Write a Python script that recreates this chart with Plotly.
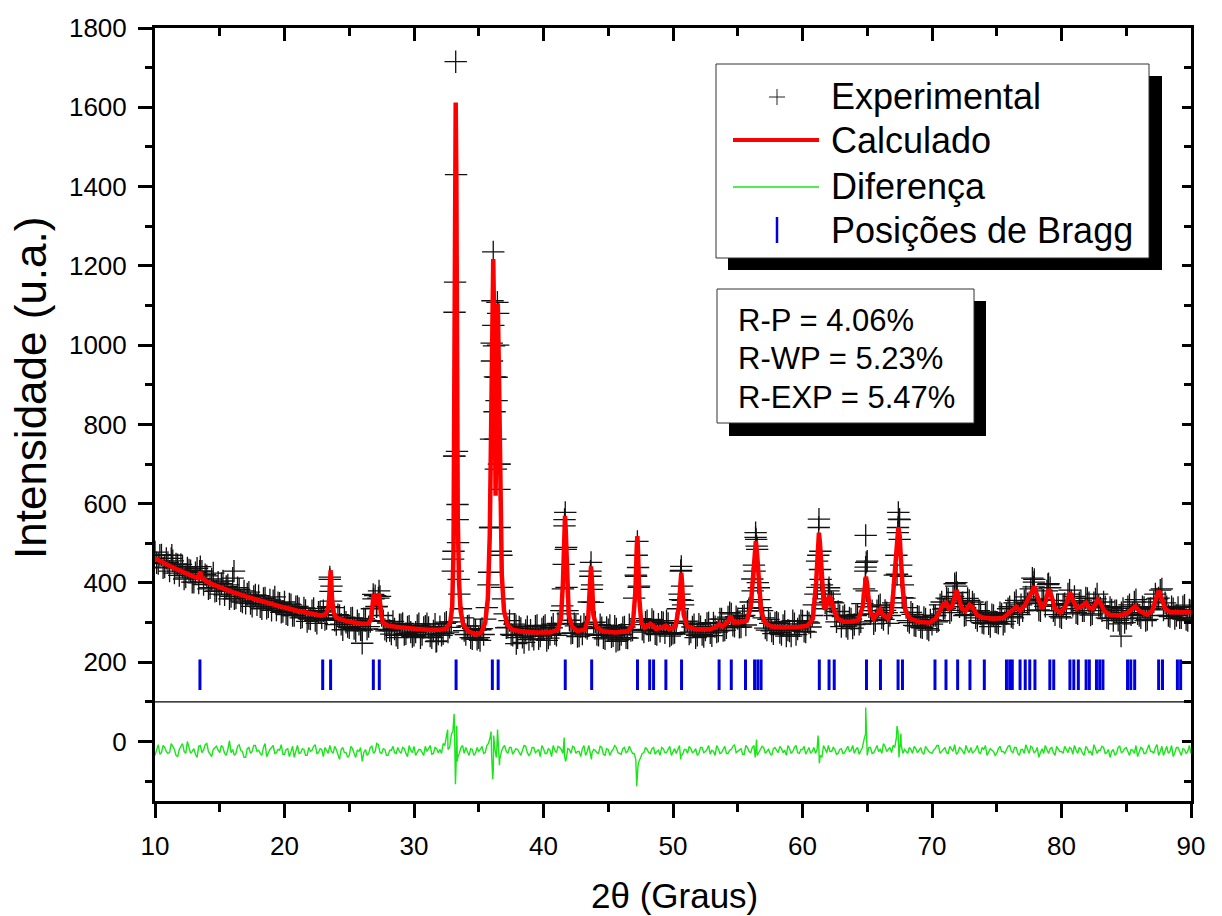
import numpy as np
import plotly.graph_objs as go

# scan grid of the diffractometer (2theta, degrees), two interleaved passes
scan_x = np.round(np.arange(10, 90.001, 0.25), 3)
scan2_x = np.round(np.arange(10.125, 89.9, 0.25), 3)

# observed intensity on the scan grid
scan_obs = [
    478, 449, 471, 440, 452, 462, 425, 446, 447, 410, 438, 431, 402, 437, 441, 396,
    418, 388, 425, 380, 372, 405, 391, 360, 412, 362, 384, 352, 349, 377, 341, 370,
    368, 335, 362, 340, 331, 365, 350, 326, 352, 320, 345, 318, 341, 312, 337, 303,
    309, 336, 298, 327, 330, 310, 415, 338, 295, 318, 282, 301, 287, 312, 279, 296,
    281, 306, 290, 335, 368, 362, 318, 283, 299, 271, 284, 262, 295, 270, 289, 276,
    268, 293, 262, 288, 297, 266, 279, 254, 290, 272, 301, 288, 430, 1430, 372, 312,
    270, 292, 259, 281, 262, 285, 309, 395, 1005, 920, 1080, 470, 322, 288, 270, 296,
    262, 285, 250, 290, 281, 258, 293, 266, 289, 255, 270, 296, 268, 297, 385, 490,
    306, 274, 292, 266, 271, 289, 352, 395, 301, 268, 287, 259, 282, 264, 291, 256,
    270, 289, 261, 280, 362, 505, 310, 276, 305, 281, 302, 270, 278, 300, 305, 266,
    273, 298, 372, 356, 302, 271, 289, 262, 296, 270, 281, 300, 267, 290, 279, 309,
    281, 314, 322, 291, 310, 289, 318, 329, 352, 445, 485, 338, 312, 281, 298, 272,
    301, 275, 293, 266, 279, 305, 270, 292, 304, 276, 299, 318, 372, 540, 395, 350,
    380, 352, 318, 328, 290, 318, 285, 309, 295, 321, 302, 385, 455, 322, 297, 330,
    345, 308, 325, 318, 350, 470, 560, 395, 338, 300, 321, 292, 314, 287, 309, 281,
    296, 318, 305, 352, 336, 360, 331, 398, 355, 348, 318, 361, 329, 346, 305, 322,
    298, 327, 290, 318, 301, 325, 296, 322, 340, 312, 356, 320, 330, 365, 350, 412,
    360, 332, 358, 341, 398, 356, 320, 345, 312, 348, 372, 355, 366, 322, 355, 330,
    361, 319, 350, 372, 337, 352, 312, 338, 305, 330, 297, 336, 310, 345, 325, 358,
    318, 340, 305, 334, 318, 372, 362, 385, 350, 318, 340, 310, 338, 312, 344, 305,
    330,
]
scan2_obs = [
    451, 470, 438, 462, 430, 456, 448, 419, 441, 415, 433, 402, 426, 400, 430, 421,
    385, 410, 379, 402, 398, 370, 395, 366, 360, 388, 355, 380, 372, 348, 366, 345,
    340, 361, 336, 357, 355, 332, 349, 328, 322, 347, 318, 340, 336, 314, 331, 310,
    330, 305, 326, 312, 308, 340, 392, 306, 320, 296, 314, 290, 311, 285, 305, 282,
    310, 284, 303, 360, 341, 366, 305, 279, 280, 303, 268, 295, 298, 272, 291, 265,
    276, 297, 270, 291, 288, 262, 296, 271, 268, 298, 276, 302, 720, 560, 335, 280,
    291, 262, 284, 258, 282, 270, 338, 540, 1050, 860, 700, 360, 287, 305, 268, 292,
    289, 263, 280, 257, 266, 291, 259, 284, 293, 261, 287, 272, 298, 330, 560, 322,
    273, 297, 265, 290, 296, 285, 430, 300, 270, 295, 262, 288, 293, 267, 284, 258,
    287, 262, 295, 281, 420, 392, 283, 301, 280, 308, 272, 296, 301, 274, 298, 270,
    275, 335, 432, 298, 304, 276, 295, 268, 290, 265, 298, 274, 299, 276, 309, 280,
    287, 325, 293, 315, 288, 316, 294, 336, 410, 515, 388, 330, 286, 308, 279, 299,
    298, 270, 303, 281, 266, 297, 284, 305, 278, 302, 289, 345, 455, 480, 360, 335,
    352, 350, 302, 318, 315, 291, 312, 286, 318, 296, 348, 440, 340, 330, 305, 342,
    312, 331, 298, 338, 420, 540, 445, 362, 305, 326, 293, 316, 289, 313, 285, 307,
    318, 302, 345, 334, 362, 325, 366, 392, 340, 350, 320, 356, 352, 312, 330, 300,
    325, 297, 320, 302, 298, 322, 303, 335, 315, 350, 325, 345, 355, 348, 385, 402,
    355, 330, 357, 380, 388, 330, 345, 315, 345, 335, 382, 343, 325, 350, 330, 362,
    350, 322, 360, 343, 330, 340, 310, 332, 330, 306, 325, 300, 340, 320, 352, 322,
    312, 338, 308, 335, 352, 360, 382, 332, 340, 315, 335, 318, 312, 340, 308, 332,
]

# extra observed points on the reflections
peak_x = [13.45, 23.5, 23.55, 23.6, 26.85, 27.1, 27.3,
          33.05, 33.1, 33.13, 33.17, 33.22, 33.32, 33.36, 33.4, 33.02, 33.45,
          35.8, 35.9, 35.95, 36.02, 36.06, 36.12, 36.18, 36.22, 36.28, 36.32, 36.38,
          36.44, 36.5, 36.56, 36.6, 36.62, 36.7, 36.8,
          41.45, 41.56, 41.62, 41.68, 41.72, 41.78, 41.85, 43.62, 43.67, 43.72, 43.8,
          47.15, 47.2, 47.3, 47.35, 50.55, 50.6, 50.64, 50.7, 50.78,
          56.15, 56.3, 56.38, 56.42, 56.46, 56.55, 56.65,
          61.15, 61.22, 61.27, 61.35, 61.4, 62.05, 62.1, 64.85, 64.88, 64.92, 64.95,
          67.3, 67.36, 67.4, 67.45, 67.5, 67.6, 67.7, 71.88, 71.95, 77.85, 77.9, 78.95,
          26.0, 84.6, 31.7, 37.9, 45.6, 35.1, 16.1, 11.3]
peak_obs = [430, 409, 379, 354, 371, 340, 380,
            480, 720, 1083, 1159, 1715, 732, 598, 502, 460, 409,
            427, 540, 763, 960, 1112, 1235, 998, 832, 763, 687, 919,
            1108, 1000, 700, 636, 540, 480, 389,
            342, 447, 544, 578, 485, 389, 330, 417, 452, 384, 351,
            417, 470, 439, 389, 358, 430, 442, 392, 345,
            380, 430, 527, 510, 493, 401, 358,
            389, 470, 561, 434, 409, 388, 372, 430, 520, 452, 380,
            422, 527, 578, 561, 510, 417, 363, 401, 376, 390, 409, 396,
            248, 266, 252, 247, 253, 255, 430, 470]

# calculated profile
calc_x = [10.0, 10.5, 11.0, 11.5, 12.0, 12.5, 13.0, 13.3, 13.45, 13.5, 13.6, 13.8, 14.0,
          14.5, 15.0, 15.5, 16.0, 17.0, 18.0, 19.0, 20.0, 21.0, 22.0, 22.8, 23.1, 23.35,
          23.45, 23.52, 23.56, 23.6, 23.67, 23.8, 24.0, 24.5, 25.0, 26.0, 26.5, 26.7, 26.8,
          26.88, 26.95, 27.05, 27.15, 27.28, 27.35, 27.45, 27.6, 28.0, 29.0, 30.0, 31.0,
          32.0, 32.5, 32.8, 32.95, 33.05, 33.12, 33.17, 33.22, 33.27, 33.32, 33.38, 33.48,
          33.6, 33.8, 34.2, 34.8, 35.2, 35.5, 35.7, 35.85, 35.95, 36.05, 36.12, 36.2, 36.3,
          36.38, 36.47, 36.55, 36.65, 36.78, 36.95, 37.2, 37.6, 38.5, 39.5, 40.5, 41.1,
          41.35, 41.5, 41.6, 41.66, 41.72, 41.82, 41.95, 42.2, 42.6, 43.2, 43.45, 43.58,
          43.67, 43.75, 43.85, 44.1, 44.6, 45.5, 46.5, 46.9, 47.1, 47.2, 47.25, 47.3, 47.4,
          47.55, 47.8, 48.05, 48.25, 48.45, 48.7, 49.2, 49.45, 49.7, 50.2, 50.45, 50.58,
          50.64, 50.7, 50.82, 51.1, 51.8, 52.8, 53.3, 53.58, 53.8, 54.2, 54.45, 54.7, 55.1,
          55.4, 55.7, 56.0, 56.2, 56.33, 56.4, 56.5, 56.62, 56.8, 57.1, 57.6, 58.5, 59.5,
          60.4, 60.8, 61.05, 61.2, 61.27, 61.35, 61.5, 61.65, 61.8, 62.05, 62.2, 62.4, 62.7,
          63.2, 63.8, 64.3, 64.65, 64.82, 64.9, 65.0, 65.2, 65.5, 65.85, 66.0, 66.2, 66.6,
          66.9, 67.1, 67.3, 67.4, 67.5, 67.6, 67.75, 67.95, 68.3, 69.0, 69.8, 70.3, 70.6,
          70.9, 71.1, 71.3, 71.55, 71.75, 71.9, 72.05, 72.3, 72.6, 72.9, 73.1, 73.5, 74.0,
          74.8, 75.5, 75.9, 76.2, 76.5, 76.8, 77.2, 77.6, 77.9, 78.15, 78.5, 78.75, 79.0,
          79.2, 79.5, 79.9, 80.3, 80.6, 80.7, 80.9, 81.2, 81.5, 81.9, 82.15, 82.4, 82.6,
          82.8, 83.0, 83.3, 83.7, 84.3, 85.0, 85.4, 85.7, 86.0, 86.6, 87.0, 87.3, 87.5,
          87.7, 88.0, 88.4, 89.2, 90.0]
calc_y = [462, 453, 445, 437, 430, 422, 415, 412, 424, 428, 414, 407, 403,
          396, 389, 383, 377, 366, 356, 347, 338, 330, 322, 318, 320, 330,
          360, 410, 432, 415, 360, 325, 312, 306, 302, 297, 298, 310, 340,
          372, 360, 345, 355, 374, 360, 320, 300, 292, 288, 285, 282,
          282, 285, 300, 340, 480, 850, 1350, 1612, 1420, 900, 560, 400,
          330, 295, 278, 270, 275, 300, 360, 520, 800, 1100, 1217, 1030, 620,
          860, 1105, 950, 640, 420, 330, 295, 282, 277, 275, 275, 282,
          310, 400, 530, 569, 530, 400, 320, 290, 279, 282, 310, 390,
          442, 400, 320, 288, 278, 275, 278, 295, 380, 490, 518, 480, 360,
          300, 287, 292, 297, 292, 284, 288, 292, 283, 290, 340, 410,
          426, 400, 320, 290, 283, 283, 288, 296, 290, 300, 316, 300, 300,
          303, 305, 340, 430, 500, 506, 470, 400, 330, 300, 290, 288, 288,
          292, 310, 400, 500, 527, 500, 400, 340, 335, 368, 360, 335, 310,
          302, 303, 306, 340, 400, 416, 395, 330, 310, 325, 333, 320, 310,
          330, 400, 500, 540, 520, 460, 380, 330, 310, 302, 300, 310, 330,
          348, 350, 335, 340, 370, 382, 365, 335, 330, 345, 340, 318, 312,
          310, 312, 322, 330, 340, 330, 345, 370, 391, 365, 335, 350, 384,
          370, 335, 326, 340, 370, 374, 355, 336, 340, 350, 337, 335, 345,
          358, 350, 330, 320, 318, 322, 334, 341, 330, 320, 330, 360, 380,
          365, 335, 326, 325, 326]

# difference (observed - calculated, shifted)
scan_diff = [
    -35, -8, -28, -15, -30, -5, -20, -38, -12, -25, 0, -30, -18, -40, -10, -22,
    -5, -32, -20, -12, -28, -15, -35, 2, -20, -30, -8, -25, -40, -15, -25, -10,
    -22, -35, -5, -28, -15, -30, -20, -8, -32, -18, -26, -40, -10, -28, -20, -35,
    -25, -12, -30, -18, -38, -22, -10, -30, -20, -45, -15, -28, -35, -18, -40, -25,
    -50, -20, -30, -12, -25, -8, -30, -20, -35, -22, -28, -15, -30, -18, -38, -22,
    -12, -28, -20, -35, -25, -10, -30, -18, -20, -5, 10, -15, 25, -60, -30, -10,
    -15, -35, -20, -30, -25, -12, -28, -5, -40, -20, 0, -25, -10, -30, -15, -25,
    -20, -35, -10, -28, -30, -15, -25, -38, -18, -30, -22, -10, -28, -15, -30, -45,
    -20, -12, -30, -25, -18, -35, -10, -28, -22, -30, -15, -35, -20, -25, -10, -28,
    -32, -15, -25, -20, -30, -70, -40, -28, -20, -30, -15, -25, -35, -18, -28, -12,
    -25, -30, -10, -32, -20, -12, -28, -18, -30, -15, -25, -10, -22, -35, -18, -28,
    -12, -30, -20, -8, -25, -18, -32, -15, -28, -10, -35, -20, -15, -25, -30, -18,
    -22, -12, -28, -35, -18, -25, -10, -30, -20, -32, -15, -25, -30, -5, -40, -18,
    -10, -25, -20, -30, -18, -28, -12, -22, -30, -15, -25, 5, -35, -15, -28, -10,
    -20, -5, -25, -15, -10, 10, -20, -30, -25, -15, -30, -18, -22, -28, -12, -25,
    -30, -18, -10, -25, -15, -30, -20, -8, -28, -18, -32, -22, -15, -25, -10, -30,
    -20, -35, -18, -25, -30, -12, -25, -20, -10, -28, -15, -35, -20, -8, -30, -15,
    -25, -40, -18, -10, -30, -15, -35, -20, -25, -12, -28, -18, -10, -30, -20, -35,
    -18, -25, -8, -30, -22, -15, -28, -40, -20, -30, -12, -25, -15, -35, -22, -10,
    -28, -18, -30, -8, -25, -15, -35, -12, -20, -30, -10, -28, -15, -35, -20, -25,
    -30,
]
scan2_diff = [
    -18, -32, -10, -25, -28, -12, -35, -20, -5, -30, -18, -25, -32, -12, -28, -8,
    -25, -38, -15, -22, -10, -30, -20, -28, -35, -12, -22, -40, -18, -30, -10, -25,
    -30, -15, -38, -20, -10, -28, -22, -32, -20, -38, -12, -25, -30, -18, -35, -15,
    -22, -8, -28, -20, -15, -30, -25, -12, -32, -20, -28, -40, -12, -30, -22, -15,
    -28, -35, -15, -30, -5, -28, -18, -35, -22, -12, -30, -25, -15, -30, -10, -28,
    -35, -20, -28, -12, -18, -32, -15, -28, -30, -10, -20, 15, 40, -40, -15, -30,
    -28, -18, -35, -15, -20, -30, -10, 10, -70, -35, -45, -15, -25, -15, -32, -18,
    -30, -22, -12, -35, -15, -28, -20, -10, -30, -18, -38, -22, -12, -20, -35, -18,
    -30, -15, -25, -38, -10, -25, -30, -20, -28, -12, -32, -18, -35, -20, -15, -30,
    -18, -28, -12, -30, -45, -50, -30, -15, -28, -18, -32, -22, -15, -28, -20, -35,
    -18, -22, -35, -20, -30, -18, -25, -35, -15, -28, -20, -32, -25, -10, -30, -18,
    -30, -22, -12, -28, -20, -32, -10, -25, -15, -30, -25, -12, -30, -20, -35, -15,
    -28, -18, -22, -10, -30, -15, -28, -20, -12, -25, -30, -15, -20, -35, -10, -28,
    -25, -15, -32, -20, -30, -18, -25, -10, -20, -32, -15, 20, -15, -30, -20, -25,
    -30, -12, -20, -28, -15, 25, -10, -20, -30, -20, -12, -28, -15, -32, -20, -28,
    -22, -10, -30, -18, -28, -12, -25, -32, -15, -25, -10, -28, -30, -20, -28, -15,
    -10, -28, -22, -35, -18, -25, -30, -12, -25, -15, -30, -20, -30, -18, -12, -28,
    -15, -28, -30, -20, -18, -28, -12, -25, -30, -20, -15, -32, -22, -15, -30, -12,
    -28, -35, -18, -22, -12, -30, -20, -25, -35, -15, -28, -18, -25, -20, -30, -38,
    -15, -30, -20, -25, -30, -8, -25, -35, -12, -25, -38, -15, -28, -18, -30, -10,
]
diff_peak_x = [32.6, 32.9, 33.1, 33.15, 33.2, 33.3, 33.35, 35.95, 36.08, 36.15, 36.35,
               36.45, 36.6, 41.6, 41.7, 43.7, 47.1, 47.2, 47.3, 50.6, 56.35, 56.45,
               61.2, 61.3, 64.88, 64.95, 67.3, 67.45, 67.6]
diff_peak_y = [30, 20, 70, -20, -108, 40, -50, 25, -95, 15, -40,
               30, -60, 10, -50, -45, -40, -113, -60, -45, -40, 5,
               15, -55, 86, -30, 39, -40, 20]

# Bragg reflection positions
bragg_pos = [13.47, 22.95, 23.56, 26.86, 27.32, 33.25, 36.05, 36.5, 41.68, 43.72,
             47.26, 48.2, 48.5, 49.45, 50.66, 53.56, 54.5, 55.6, 56.3, 56.55, 56.8,
             61.3, 62.05, 62.45, 64.94, 66.02, 67.38, 67.72, 70.23, 71.08, 71.98,
             72.93, 74.04, 75.75, 76.0, 76.2, 76.8, 77.2, 77.55, 77.95, 79.1, 79.4,
             80.65, 80.95, 81.3, 81.9, 82.15, 82.7, 82.95, 83.2, 85.1, 85.35, 85.65,
             87.5, 87.8, 88.95, 89.2]
bragg_low, bragg_high = 130, 207
diff_baseline = 100

r_factors = ['R-P = 4.06%', 'R-WP = 5.23%', 'R-EXP = 5.47%']
legend_names = ['Experimental', 'Calculado', 'Diferença', 'Posições de Bragg']

FONT = 'Liberation Sans, Arial, sans-serif'
W, H = 1222, 916
L, R, T, B = 155, 31, 28, 115


def px(x):
    return (x - L) / (W - L - R)


def py(y):
    return (H - B - y) / (H - T - B)


exp_x = np.concatenate([scan_x, scan2_x, peak_x])
exp_y = np.concatenate([scan_obs, scan2_obs, peak_obs])
dx = np.concatenate([scan_x, scan2_x, diff_peak_x])
dy = np.concatenate([scan_diff, scan2_diff, diff_peak_y])
order = np.argsort(dx)
dx, dy = dx[order], dy[order]

bx, by = [], []
for p in bragg_pos:
    bx += [p, p, None]
    by += [bragg_low, bragg_high, None]

data = [
    go.Scatter(x=exp_x, y=exp_y, mode='markers', name=legend_names[0],
               marker=dict(symbol='cross-thin', size=16,
                           line=dict(width=1.3, color='#111111'))),
    go.Scatter(x=calc_x, y=calc_y, mode='lines', name=legend_names[1],
               line=dict(color='#ff0000', width=4.5)),
    go.Scatter(x=dx, y=dy, mode='lines', name=legend_names[2],
               line=dict(color='#19e619', width=1.4)),
    go.Scatter(x=bx, y=by, mode='lines', name=legend_names[3], xaxis='x2', yaxis='y2',
               line=dict(color='#0000dd', width=3)),
]

axis_common = dict(showgrid=False, zeroline=False, showline=True, linewidth=3,
                   linecolor='black', tickcolor='black', tickwidth=3)

shapes = [
    dict(type='line', xref='paper', yref='y', x0=0, x1=1, y0=diff_baseline,
         y1=diff_baseline, line=dict(color='black', width=1.2)),
]


def rect(x0, y0, x1, y1, fill, lw):
    return dict(type='rect', xref='paper', yref='paper', x0=px(x0), x1=px(x1),
                y0=py(y1), y1=py(y0), fillcolor=fill,
                line=dict(color='#333333', width=lw))


def seg(x0, y0, x1, y1, color, width):
    return dict(type='line', xref='paper', yref='paper', x0=px(x0), x1=px(x1),
                y0=py(y0), y1=py(y1), line=dict(color=color, width=width))


shapes += [
    rect(728, 76, 1162, 270, 'black', 0),
    rect(716, 64, 1149, 258, 'white', 1),
    rect(729, 301, 986, 436, 'black', 0),
    rect(717, 289, 974, 423, 'white', 1),
    seg(769, 97, 785, 97, '#222222', 1),
    seg(777, 89, 777, 105, '#222222', 1),
    seg(733, 140, 819, 140, '#ff0000', 4),
    seg(733, 187, 819, 187, '#19e619', 1.5),
    seg(777, 217, 777, 243, '#0000dd', 2.5),
]

annotations = []
for name, yy in zip(legend_names, [97, 140, 187, 230]):
    annotations.append(dict(text=name, xref='paper', yref='paper', x=px(829), y=py(yy),
                            xanchor='left', yanchor='middle', showarrow=False,
                            font=dict(family=FONT, size=36, color='black')))
for txt, yy in zip(r_factors, [320, 358, 397]):
    annotations.append(dict(text=txt, xref='paper', yref='paper', x=px(736), y=py(yy),
                            xanchor='left', yanchor='middle', showarrow=False,
                            font=dict(family=FONT, size=31, color='black')))
annotations.append(dict(text='2θ (Graus)', xref='paper', yref='paper', x=px(674),
                        y=py(895), xanchor='center', yanchor='middle', showarrow=False,
                        font=dict(family=FONT, size=35, color='black')))
annotations.append(dict(text='Intensidade (u.a.)', xref='paper', yref='paper', x=px(30),
                        y=py(388), xanchor='center', yanchor='middle', showarrow=False,
                        textangle=-90, font=dict(family=FONT, size=44, color='black')))

layout = go.Layout(
    width=W, height=H,
    margin=dict(l=L, r=R, t=T, b=B),
    paper_bgcolor='white', plot_bgcolor='white',
    showlegend=False,
    font=dict(family=FONT, size=26, color='black'),
    xaxis=dict(range=[10, 90], tick0=10, dtick=10, ticks='outside', ticklen=14,
               ticklabelstandoff=6,
               minor=dict(dtick=5, ticks='outside', ticklen=8, tickwidth=3,
                          tickcolor='black'), **axis_common),
    xaxis2=dict(range=[10, 90], overlaying='x', side='top', anchor='y2', tick0=10,
                dtick=10, ticks='inside', ticklen=13, showticklabels=False,
                minor=dict(dtick=5, ticks='inside', ticklen=8, tickwidth=3,
                           tickcolor='black'), **axis_common),
    yaxis=dict(range=[-150, 1800], tick0=0, dtick=200, ticks='outside', ticklen=14,
               ticklabelstandoff=6,
               minor=dict(dtick=100, ticks='outside', ticklen=7, tickwidth=3,
                          tickcolor='black'), **axis_common),
    yaxis2=dict(range=[-150, 1800], overlaying='y', side='right', anchor='x2', tick0=0,
                dtick=200, ticks='inside', ticklen=9, showticklabels=False,
                minor=dict(dtick=100, ticks='inside', ticklen=7, tickwidth=3,
                           tickcolor='black'), **axis_common),
    shapes=shapes,
    annotations=annotations,
)

fig = go.Figure(data=data, layout=layout)
# the page body has a default 8px margin; drop it so the figure fills the window
fig.write_html('out.html', config={'displayModeBar': False},
               post_script="document.body.style.margin = '0';")
